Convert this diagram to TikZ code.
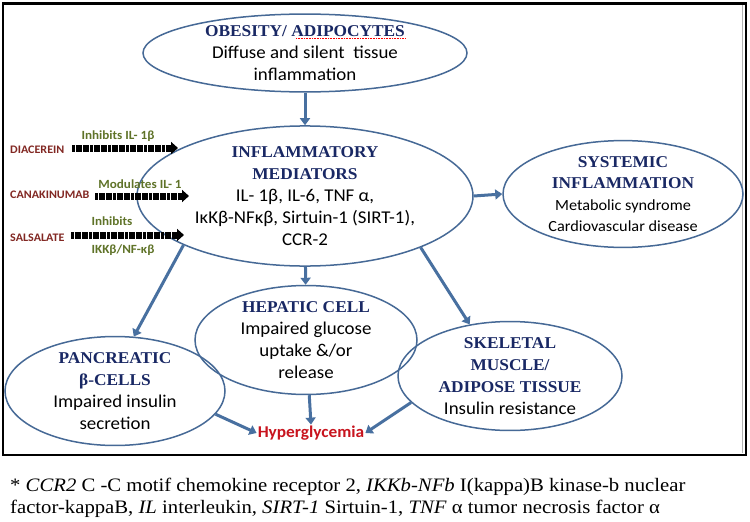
\documentclass[tikz,border=0pt]{standalone}
\usepackage{fontspec}
\setmainfont{Carlito}[FakeStretch=1.05]
\newfontfamily\hdrf{Liberation Serif}[FakeStretch=1.05]
\newfontfamily\capf{Liberation Serif}[FakeStretch=1.09]
\usetikzlibrary{shapes.geometric,arrows.meta}
\definecolor{ebl}{RGB}{70,105,150}
\definecolor{abl}{RGB}{72,112,160}
\definecolor{hdrc}{RGB}{25,40,100}
\definecolor{drugc}{RGB}{130,40,35}
\definecolor{olive}{RGB}{95,115,40}
\definecolor{hyperc}{RGB}{200,20,30}
\newcommand{\hd}[1]{{\hdrf\bfseries\color{hdrc}\fontsize{16.5}{22}\selectfont #1}}
\begin{document}
\begin{tikzpicture}[x=1pt,y=-1pt,
  ell/.style={ellipse, draw=ebl, line width=1.5pt, inner sep=0pt, align=center,
    font=\fontsize{18}{22}\selectfont},
  barrow/.style={draw=abl, line width=3pt, -{Triangle[length=7pt,width=10pt]}, fill=abl},
  drugarrow/.style={line width=7pt, black, dash pattern=on 3pt off 0.6pt, -{Triangle[length=7pt,width=12pt]}},
  druglbl/.style={text=drugc, font=\bfseries\fontsize{11.5}{14}\selectfont, inner sep=0pt, anchor=west},
  actlbl/.style={text=olive, font=\bfseries\fontsize{12.5}{14}\selectfont, inner sep=0pt}
]
\useasboundingbox (0,0) rectangle (750,522);
\fill[white] (0,0) rectangle (750,522);
\draw[line width=2.5pt] (3,3.5) rectangle (746,455);
\draw[gray!60, line width=1.5pt] (742.5,5) -- (742.5,453);

% ellipses
\node[ell, minimum width=324pt, minimum height=77pt] (obes) at (305,53)
  {\hd{OBESITY/ ADIPOCYTES}\\Diffuse and silent\ \ tissue\\inflammation};
\draw[red, line width=0.6pt, densely dotted] (296,38) -- (405,38);

\node[ell, minimum width=336pt, minimum height=132pt] (infl) at (305,196)
  {\hd{INFLAMMATORY}\\\hd{MEDIATORS}\\IL- 1β, IL-6, TNF α,\\IκKβ-NFκβ, Sirtuin-1 (SIRT-1),\\CCR-2};

\node[ell, minimum width=240pt, minimum height=105pt, font=\fontsize{15.5}{21.5}\selectfont] (sys) at (623,194)
  {\hd{SYSTEMIC}\\\hd{INFLAMMATION}\\Metabolic syndrome\\Cardiovascular disease};

\node[ell, minimum width=222pt, minimum height=96pt] (hep) at (306,340)
  {\hd{HEPATIC CELL}\\Impaired glucose\\uptake \&/or\\release};

\node[ell, minimum width=220pt, minimum height=102pt] (panc) at (115,391)
  {\hd{PANCREATIC}\\\hd{β-CELLS}\\Impaired insulin\\secretion};

\node[ell, minimum width=224pt, minimum height=104pt] (skel) at (510,376)
  {\hd{SKELETAL}\\\hd{MUSCLE/}\\\hd{ADIPOSE TISSUE}\\Insulin resistance};

\node[text=hyperc, font=\bfseries\fontsize{16.5}{18}\selectfont, inner sep=1pt] (hyper) at (311,433) {Hyperglycemia};

% blue arrows
\draw[barrow] (obes) -- (infl);
\draw[barrow] (infl.east) -- (sys.west);
\draw[barrow] (infl) -- (hep);
\draw[barrow] (infl.202) -- (panc.71);
\draw[barrow] (infl.336) -- (skel.128);
\draw[barrow] (hep) -- (hyper.north);
\draw[barrow] (panc.347) -- (hyper.west);
\draw[barrow] (skel.195) -- (hyper.east);

% drugs
\node[druglbl] (dia) at (10,150) {DIACEREIN};
\coordinate (dias) at (72,148);
\coordinate (diae) at (178,148);
\draw[drugarrow] (dias) -- (diae);
\node[actlbl] (diat) at (118,136) {Inhibits IL- 1β};

\node[druglbl] (cana) at (10,195) {CANAKINUMAB};
\coordinate (canas) at (95,196);
\coordinate (canae) at (189,196);
\draw[drugarrow] (canas) -- (canae);
\node[actlbl] (canat) at (140,184) {Modulates IL- 1};

\node[druglbl] (sals) at (10,238) {SALSALATE};
\coordinate (salss) at (71,235);
\coordinate (salse) at (184,235);
\draw[drugarrow] (salss) -- (salse);
\node[actlbl] (salst) at (112,221) {Inhibits};
\node[actlbl] (salsb) at (123,250) {IKKβ/NF-κβ};

% caption
\node[anchor=base west, inner sep=0pt, font=\capf\fontsize{19}{22}\selectfont] (cap1) at (10,491)
  {* \textit{CCR2} C -C motif chemokine receptor 2, \textit{IKKb-NFb} I(kappa)B kinase-b nuclear};
\node[anchor=base west, inner sep=0pt, font=\capf\fontsize{19}{22}\selectfont] (cap2) at (10,513)
  {factor-kappaB, \textit{IL} interleukin, \textit{SIRT-1} Sirtuin-1, \textit{TNF} α tumor necrosis factor α};
\end{tikzpicture}
\end{document}
